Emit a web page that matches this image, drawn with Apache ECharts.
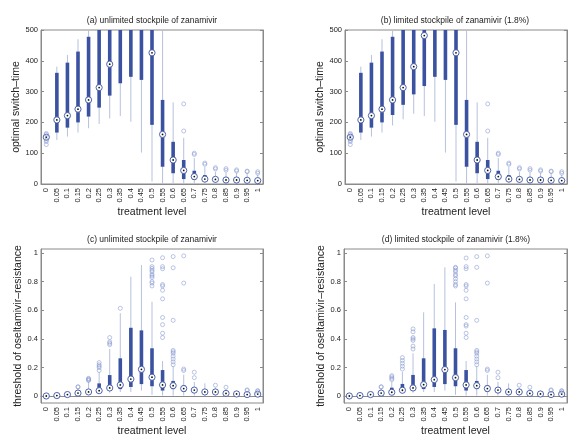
<!DOCTYPE html>
<html><head><meta charset="utf-8">
<script src="https://cdn.jsdelivr.net/npm/echarts@6/dist/echarts.min.js"></script>
<style>html,body{margin:0;padding:0;background:#fff}#c{width:580px;height:448px}</style>
</head><body><div id="c"></div>
<script>
const categories = ['0','0.05','0.1','0.15','0.2','0.25','0.3','0.35','0.4','0.45','0.5','0.55','0.6','0.65','0.7','0.75','0.8','0.85','0.9','0.95','1'];

// [whisker low, q1, median, q3, whisker high] per treatment level
const switchUnlimited = [
  [145,148,152,156,158],[143,167,208,361,381],[154,183,222,394,419],[167,200,243,430,470],
  [181,219,273,478,520],[195,248,313,560,600],[213,287,389,560,600],[221,327,530,600,650],
  [202,348,540,600,650],[102,338,530,600,650],[8,192,426,560,600],[0,56,161,273,600],
  [0,35,78,137,265],[0,16,44,78,150],[3,13,24,43,84],[3,10,16,29,55],
  [2,10,15,20,40],[2,9,13,18,38],[2,8,13,18,36],[2,7,12,17,34],[2,7,11,16,30]
];
const switchUnlimitedOut = [
  [128,138,142,161,164],[],[],[],[],[],[],[],[],[],[],[],[],[172,260],[96,100],[64,68],[49,53],[45,50],[42,46],[40,42],[35,40]
];
const switchLimited = [
  [145,148,152,156,158],[143,167,208,361,381],[154,183,222,394,419],[167,200,243,430,470],
  [190,224,273,478,520],[210,257,313,560,600],[228,291,381,560,600],[221,318,482,560,600],
  [202,348,540,600,650],[102,338,530,600,650],[8,192,426,560,600],[0,56,161,273,600],
  [0,35,78,137,265],[0,16,44,78,150],[3,13,24,43,84],[3,10,16,29,55],
  [2,10,15,20,40],[2,9,13,18,38],[2,8,13,18,36],[2,7,12,17,34],[2,7,11,16,30]
];
const switchLimitedOut = [
  [128,138,142,161,164],[],[],[],[],[],[],[],[],[],[],[],[],[172,260],[96,100],[64,68],[49,53],[45,50],[42,46],[40,42],[35,40]
];
const thresholdUnlimited = [
  [0,0.001,0.002,0.003,0.004],[0.002,0.004,0.005,0.006,0.008],[0.006,0.01,0.012,0.014,0.018],
  [0.01,0.018,0.022,0.03,0.055],[0.015,0.025,0.03,0.05,0.1],[0.02,0.03,0.039,0.09,0.17],
  [0.025,0.045,0.058,0.148,0.33],[0.03,0.05,0.079,0.265,0.58],[0.03,0.065,0.12,0.478,0.835],
  [0.04,0.085,0.188,0.46,0.916],[0.01,0.07,0.133,0.335,0.66],[0.005,0.04,0.079,0.183,0.246],
  [0.005,0.05,0.074,0.107,0.21],[0.005,0.03,0.054,0.075,0.15],[0.005,0.03,0.043,0.05,0.1],
  [0.005,0.025,0.03,0.045,0.09],[0.005,0.02,0.03,0.035,0.06],[0.003,0.015,0.02,0.025,0.05],
  [0.003,0.01,0.016,0.02,0.04],[0.003,0.008,0.012,0.02,0.035],[0.003,0.01,0.015,0.03,0.03]
];
const thresholdUnlimitedOut = [
  [],[],[],[0.065,0.066],[0.11,0.115,0.12,0.125],[0.18,0.2,0.21,0.22,0.235],[0.36,0.37,0.38,0.41],[0.614],[],[],
  [0.77,0.79,0.8,0.83,0.84,0.85,0.87,0.88,0.893,0.905,0.951],
  [0.41,0.44,0.5,0.55,0.68,0.74,0.77,0.78,0.89,0.905,0.967],
  [0.22,0.24,0.26,0.28,0.3,0.31,0.32,0.53,0.897,0.975],
  [0.18,0.19,0.79,0.98],[0.13,0.168],[],[0.077],[0.063],[],[0.04,0.045],[0.035,0.04]
];
const thresholdLimited = [
  [0,0.001,0.002,0.003,0.004],[0.002,0.004,0.005,0.006,0.008],[0.006,0.01,0.012,0.014,0.018],
  [0.01,0.018,0.022,0.03,0.055],[0.015,0.025,0.028,0.06,0.1],[0.02,0.035,0.042,0.086,0.17],
  [0.025,0.045,0.058,0.149,0.3],[0.03,0.05,0.081,0.265,0.586],[0.03,0.065,0.116,0.474,0.784],
  [0.04,0.085,0.186,0.463,0.9],[0.01,0.07,0.13,0.335,0.655],[0.005,0.04,0.079,0.183,0.246],
  [0.005,0.05,0.074,0.107,0.21],[0.005,0.03,0.054,0.075,0.15],[0.005,0.03,0.043,0.05,0.1],
  [0.005,0.025,0.03,0.045,0.09],[0.005,0.02,0.03,0.035,0.06],[0.003,0.015,0.02,0.025,0.05],
  [0.003,0.01,0.016,0.02,0.04],[0.003,0.008,0.012,0.02,0.035],[0.003,0.01,0.015,0.03,0.03]
];
const thresholdLimitedOut = [
  [],[],[],[0.065,0.066],[0.116,0.125,0.135,0.144],[0.19,0.21,0.23,0.25,0.27],[0.33,0.35,0.39,0.4,0.41,0.45,0.47],[],[],[],
  [0.77,0.78,0.8,0.82,0.84,0.85,0.87,0.88,0.895,0.9],
  [0.41,0.44,0.49,0.5,0.55,0.68,0.74,0.77,0.78,0.89,0.905,0.965],
  [0.22,0.24,0.26,0.28,0.3,0.31,0.32,0.53,0.9,0.975],
  [0.18,0.19,0.79,0.98],[0.13,0.168],[],[0.077],[0.063],[],[0.04,0.045],[0.035,0.04]
];
const switchTicks = [0,100,200,300,400,500];
const thresholdTicks = [0,0.2,0.4,0.6,0.8,1];

const titles = ['(a) unlimited stockpile of zanamivir','(b) limited stockpile of zanamivir (1.8%)','(c) unlimited stockpile of zanamivir','(d) limited stockpile of zanamivir (1.8%)'];

const FONT = '"Liberation Sans", Arial, Helvetica, sans-serif';
const DARK = '#3b52a0';
const WHISK = '#b6c1dd';
const OUT = '#8496cf';
const AXC = '#8a8a8a';

const grids = [
  {left:41, top:30, width:222, height:154},
  {left:345, top:30, width:222, height:154},
  {left:41, top:249, width:222, height:154},
  {left:344, top:249, width:223, height:154}
];
const panels = [
  {stats: switchUnlimited, out: switchUnlimitedOut, min:0, max:500, ticks: switchTicks, yname:'optimal switch–time', gap:19, tx:152, ty:21},
  {stats: switchLimited, out: switchLimitedOut, min:0, max:500, ticks: switchTicks, yname:'optimal switch–time', gap:18, tx:455, ty:21},
  {stats: thresholdUnlimited, out: thresholdUnlimitedOut, min:-0.047, max:1.028, ticks: thresholdTicks, yname:'threshold of oseltamivir–resistance', gap:16, tx:152, ty:240},
  {stats: thresholdLimited, out: thresholdLimitedOut, min:-0.047, max:1.028, ticks: thresholdTicks, yname:'threshold of oseltamivir–resistance', gap:16, tx:456, ty:240}
];

function renderBox(params, api){
  const cs = params.coordSys;
  const top = cs.y, bot = cs.y + cs.height;
  const clamp = y => Math.max(top, Math.min(bot, y));
  const i = api.value(0);
  const x = api.coord([i, 0])[0];
  const py = v => api.coord([i, v])[1];
  const yl = clamp(py(api.value(1))), yq1 = clamp(py(api.value(2))), ym = py(api.value(3));
  const yq3 = clamp(py(api.value(4))), yh = clamp(py(api.value(5)));
  const children = [
    {type:'line', shape:{x1:x, y1:yl, x2:x, y2:yh}, style:{stroke:WHISK, lineWidth:1}},
    {type:'line', shape:{x1:x, y1:yq1, x2:x, y2:yq3}, style:{stroke:DARK, lineWidth:3.6}}
  ];
  if (ym >= top && ym <= bot) {
    children.push({type:'circle', shape:{cx:x, cy:ym, r:3.1}, style:{fill:'#fff', stroke:DARK, lineWidth:0.9}});
    children.push({type:'circle', shape:{cx:x, cy:ym, r:0.9}, style:{fill:'#111'}});
  }
  return {type:'group', children};
}

const xAxis = [], yAxis = [], series = [], graphic = [];
panels.forEach((p, k) => {
  xAxis.push({
    type:'category', gridIndex:k, data:categories, boundaryGap:true,
    axisLine:{lineStyle:{color:AXC}},
    axisTick:{inside:true, alignWithLabel:true, length:2, lineStyle:{color:AXC}},
    axisLabel:{rotate:90, fontSize:7.5, color:'#222', margin:4, fontFamily:FONT, interval:0},
    name:'treatment level', nameLocation:'middle', nameGap:22,
    nameTextStyle:{fontSize:10.5, color:'#222', fontFamily:FONT}
  });
  yAxis.push({
    type:'value', gridIndex:k, min:p.min, max:p.max, position:'left',
    axisLine:{show:true, lineStyle:{color:AXC}},
    axisTick:{show:true, inside:true, length:3, customValues:p.ticks, lineStyle:{color:AXC}},
    axisLabel:{fontSize:7.5, color:'#222', margin:3, fontFamily:FONT, customValues:p.ticks},
    splitLine:{show:false},
    name:p.yname, nameLocation:'middle', nameGap:p.gap,
    nameTextStyle:{fontSize:10.5, color:'#222', fontFamily:FONT}
  });
  yAxis.push({
    type:'value', gridIndex:k, min:p.min, max:p.max, position:'right',
    axisLine:{show:true, lineStyle:{color:AXC}},
    axisTick:{show:true, inside:true, length:3, customValues:p.ticks, lineStyle:{color:AXC}},
    axisLabel:{show:false}, splitLine:{show:false}
  });
  series.push({
    type:'custom', xAxisIndex:k, yAxisIndex:2*k, renderItem:renderBox,
    encode:{x:0, y:[1,2,3,4,5]}, silent:true,
    data:p.stats.map((s, i) => [i, ...s])
  });
  const outs = [];
  p.out.forEach((vals, i) => vals.forEach(v => outs.push([i, v])));
  series.push({
    type:'scatter', xAxisIndex:k, yAxisIndex:2*k, symbol:'circle', symbolSize:4,
    itemStyle:{color:'rgba(255,255,255,0)', borderColor:OUT, borderWidth:0.7}, silent:true, z:3,
    data:outs
  });
  graphic.push({type:'text', x:p.tx, y:p.ty, style:{text:titles[k], fontSize:8.5, fill:'#222', fontFamily:FONT, textAlign:'center', textVerticalAlign:'middle'}});
});

const chart = echarts.init(document.getElementById('c'), null, {renderer:'canvas'});
chart.setOption({
  animation:false, backgroundColor:'#fff',
  grid: grids.map(g => Object.assign({show:true, borderColor:AXC, borderWidth:1, backgroundColor:'transparent'}, g)),
  xAxis, yAxis, series, graphic
});
</script></body></html>
